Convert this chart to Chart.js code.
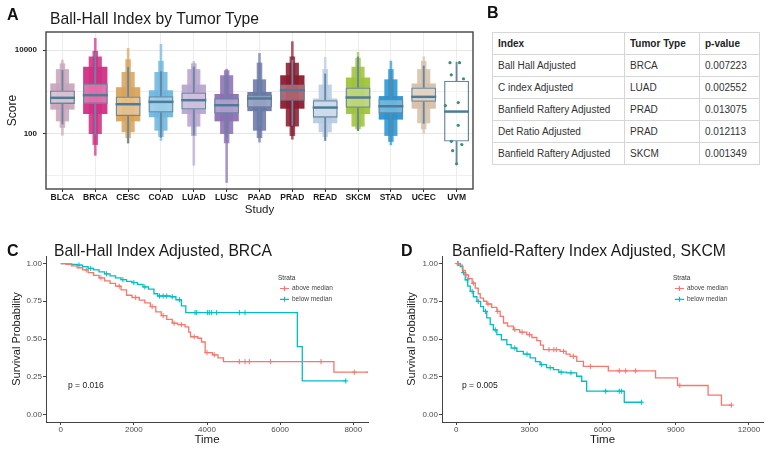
<!DOCTYPE html>
<html>
<head>
<meta charset="utf-8">
<script src="https://cdn.jsdelivr.net/npm/chart.js@4.4.1/dist/chart.umd.min.js"></script>
<style>
  body { margin: 0; background: #fff; }
  #wrap { position: relative; width: 771px; height: 450px; overflow: hidden; font-family: "Liberation Sans", Arial, sans-serif; }
  canvas { position: absolute; }
  .lbl { position: absolute; line-height: 1; white-space: nowrap; color: #111; }
  .panel { font-size: 16px; font-weight: bold; }
  .title { font-size: 15.7px; color: #1a1a1a; }
  .pval { font-size: 8.5px; color: #222; }
  table { position: absolute; left: 492px; top: 32px; border-collapse: collapse; font-size: 10px; color: #333; }
  td { height: 22px; padding: 0 0 0 5px; border: 1px solid #d6d6d6; box-sizing: border-box; }
  td + td { border-left: 1px solid #555; }
  tr:first-child td { font-weight: bold; color: #222; }
</style>
</head>
<body>
<div id="wrap">
  <canvas id="chartA" width="480" height="220" style="left:0;top:0;width:480px;height:220px"></canvas>
  <canvas id="chartC" width="385" height="225" style="left:0;top:225px;width:385px;height:225px"></canvas>
  <canvas id="chartD" width="386" height="225" style="left:385px;top:225px;width:386px;height:225px"></canvas>

  <div class="lbl panel" style="left:7px;top:7px">A</div>
  <div class="lbl title" style="left:50px;top:11px">Ball-Hall Index by Tumor Type</div>
  <div class="lbl panel" style="left:487px;top:5px">B</div>
  <div class="lbl panel" style="left:7px;top:243px">C</div>
  <div class="lbl title" style="left:54px;top:243px">Ball-Hall Index Adjusted, BRCA</div>
  <div class="lbl panel" style="left:401px;top:243px">D</div>
  <div class="lbl title" style="left:452px;top:243px">Banfield-Raftery Index Adjusted, SKCM</div>
  <div class="lbl pval" style="left:68px;top:381px">p = 0.016</div>
  <div class="lbl pval" style="left:462px;top:381px">p = 0.005</div>

  <table id="pTable">
    <colgroup><col style="width:132px"><col style="width:75px"><col style="width:60px"></colgroup>
    <tbody id="pTableBody"></tbody>
  </table>
</div>

<script>
// ---- Panel A data: Ball-Hall score per study (log scale) ----
const studies = ['BLCA', 'BRCA', 'CESC', 'COAD', 'LUAD', 'LUSC', 'PAAD', 'PRAD', 'READ', 'SKCM', 'STAD', 'UCEC', 'UVM'];
const studyColors = ['#c9a6bb', '#d12f84', '#d8a45c', '#6fb7de', '#b8a5cd', '#8d71b4', '#6b77a8', '#8b1c2d', '#b7cce2', '#9fc43b', '#2a95d1', '#d6c1aa', '#3d8f73'];
const q1Vals = [521, 521, 269, 324, 382, 306, 426, 615, 245, 419, 306, 582, 66];
const medianVals = [726, 840, 512, 582, 638, 484, 700, 1106, 426, 739, 458, 766, 342];
const q3Vals = [1086, 1596, 780, 794, 973, 713, 855, 1510, 638, 1281, 687, 1281, 1850];
const whiskerLow = [173, 97, 61, 84, 94, 86, 150, 160, 70, 120, 91, 179, 19.6];
const whiskerHigh = [3270, 8550, 3850, 3050, 3950, 2535, 2430, 5800, 2690, 6840, 2300, 4170, 5160];
// extent of the beeswarm points, from the sparse tails to the dense middle
const swarmMin = [93, 31, 61, 70, 18, 7, 64, 75, 70, 120, 55, 103, null];
const swarmMax = [5770, 19000, 10900, 13700, 5300, 3500, 8300, 15800, 6700, 8800, 5450, 6900, null];
const outerLow = [140, 55, 80, 85, 90, 60, 80, 90, 85, 130, 65, 130, null];
const outerHigh = [4800, 9500, 6000, 5500, 4800, 3300, 5000, 7000, 3500, 6500, 3500, 5500, null];
const midLow = [200, 100, 110, 120, 150, 100, 120, 150, 110, 150, 90, 180, null];
const midHigh = [3500, 7000, 3000, 3000, 3500, 2500, 2000, 5000, 1500, 4000, 2000, 3500, null];
const bodyLow = [380, 300, 200, 250, 300, 200, 350, 400, 180, 300, 220, 400, null];
const bodyHigh = [1600, 4000, 1300, 1100, 1500, 900, 1000, 2500, 700, 2200, 800, 1600, null];
// UVM has few samples, drawn as single points
const uvmScores = [4980, 5000, 2570, 2065, 561, 475, 161, 67, 56, 40, 19.5];
const uvmJitter = [-0.20, 0.09, -0.16, 0.21, 0.05, -0.34, 0.05, -0.16, 0.16, -0.12, 0.0];
const scoreTicks = [10, 100, 1000, 10000];

// ---- Panel B data ----
const tableHeader = ['Index', 'Tumor Type', 'p-value'];
const indexNames = ['Ball Hall Adjusted', 'C index Adjusted', 'Banfield Raftery Adjusted', 'Det Ratio Adjusted', 'Banfield Raftery Adjusted'];
const tumorTypes = ['BRCA', 'LUAD', 'PRAD', 'PRAD', 'SKCM'];
const pValues = ['0.007223', '0.002552', '0.013075', '0.012113', '0.001349'];

// ---- Panels C, D: Kaplan-Meier steps [time, survival] ----
const strataNames = ['above median', 'below median'];
const strataColors = ['#f8766d', '#00bfc4'];
const survTicks = [0, 0.25, 0.5, 0.75, 1];

const brcaAbove = [[0, 1], [150, 0.995], [300, 0.985], [450, 0.972], [600, 0.958], [750, 0.94], [900, 0.922], [1050, 0.905], [1200, 0.885], [1350, 0.868], [1500, 0.85], [1650, 0.825], [1800, 0.79], [1950, 0.775], [2150, 0.758], [2300, 0.74], [2450, 0.715], [2600, 0.68], [2750, 0.655], [2900, 0.63], [3050, 0.605], [3200, 0.595], [3400, 0.58], [3500, 0.545], [3550, 0.515], [3750, 0.505], [3850, 0.48], [3950, 0.41], [4150, 0.395], [4300, 0.375], [4450, 0.35], [7470, 0.28], [8420, 0.28]];
const brcaBelow = [[0, 1], [150, 0.998], [300, 0.994], [450, 0.99], [600, 0.98], [750, 0.968], [900, 0.958], [1050, 0.945], [1200, 0.932], [1350, 0.918], [1500, 0.905], [1650, 0.893], [1800, 0.882], [1950, 0.874], [2100, 0.862], [2250, 0.845], [2400, 0.83], [2550, 0.8], [2650, 0.785], [3000, 0.78], [3150, 0.76], [3300, 0.72], [3420, 0.675], [6470, 0.45], [6605, 0.222], [7795, 0.222]];
const brcaAboveCensor = [[700, 0.958], [1100, 0.905], [1600, 0.85], [2050, 0.775], [2500, 0.715], [2800, 0.655], [3100, 0.605], [3300, 0.595], [3650, 0.515], [4000, 0.41], [4200, 0.395], [4884, 0.35], [5039, 0.35], [5157, 0.35], [5740, 0.35], [7117, 0.35], [8028, 0.28], [8420, 0.28]];
const brcaBelowCensor = [[500, 0.99], [820, 0.968], [1250, 0.932], [1700, 0.893], [2000, 0.874], [2300, 0.845], [2700, 0.785], [2800, 0.785], [2900, 0.785], [3050, 0.78], [3250, 0.76], [3672, 0.675], [3718, 0.675], [4018, 0.675], [4064, 0.675], [4128, 0.675], [4264, 0.675], [4884, 0.675], [5039, 0.675], [7795, 0.222]];

const skcmAbove = [[0, 1], [100, 0.99], [250, 0.955], [368, 0.925], [500, 0.9], [650, 0.87], [777, 0.837], [900, 0.8], [982, 0.771], [1120, 0.75], [1255, 0.732], [1450, 0.71], [1664, 0.683], [1800, 0.65], [1937, 0.606], [2100, 0.585], [2346, 0.562], [2600, 0.545], [2892, 0.529], [3100, 0.51], [3302, 0.489], [3450, 0.46], [3574, 0.43], [4256, 0.418], [4500, 0.4], [4665, 0.385], [4939, 0.352], [5212, 0.319], [6232, 0.289], [8170, 0.243], [9070, 0.192], [10323, 0.128], [10870, 0.062], [11280, 0.062]];
const skcmBelow = [[0, 1], [164, 0.98], [270, 0.94], [368, 0.892], [470, 0.85], [573, 0.815], [700, 0.78], [845, 0.749], [1000, 0.715], [1118, 0.683], [1250, 0.64], [1391, 0.595], [1520, 0.56], [1664, 0.529], [1850, 0.495], [2073, 0.463], [2250, 0.44], [2483, 0.418], [2750, 0.4], [3028, 0.375], [3250, 0.35], [3437, 0.33], [3700, 0.31], [3983, 0.297], [4200, 0.28], [4529, 0.276], [4936, 0.253], [5141, 0.22], [5345, 0.154], [6887, 0.081], [7598, 0.081]];
const skcmAboveCensor = [[50, 1], [400, 0.925], [700, 0.87], [1300, 0.732], [1700, 0.683], [2400, 0.562], [2700, 0.545], [3000, 0.529], [3800, 0.43], [4000, 0.43], [4100, 0.43], [4400, 0.418], [4800, 0.385], [5500, 0.319], [6682, 0.289], [6944, 0.289], [7353, 0.289], [9165, 0.192], [11280, 0.062]];
const skcmBelowCensor = [[80, 1], [300, 0.94], [450, 0.892], [650, 0.815], [900, 0.749], [1200, 0.683], [1600, 0.56], [2400, 0.44], [2900, 0.4], [3500, 0.33], [3850, 0.31], [4300, 0.28], [4700, 0.276], [6125, 0.154], [6682, 0.154], [6780, 0.154], [7598, 0.081]];

const FONT = '"Liberation Sans", Arial, sans-serif';

function withAlpha(hex, a) {
    const n = parseInt(hex.slice(1), 16);
    return `rgba(${(n >> 16) & 255}, ${(n >> 8) & 255}, ${n & 255}, ${a})`;
}

function ranges(lows, highs) {
    return lows.map((lo, i) => (lo === null ? null : [lo, highs[i]]));
}

// Fill the p-value table
const tbody = document.getElementById('pTableBody');
[tableHeader, ...indexNames.map((name, i) => [name, tumorTypes[i], pValues[i]])].forEach(cells => {
    const row = document.createElement('tr');
    row.innerHTML = cells.map(c => `<td>${c}</td>`).join('');
    tbody.appendChild(row);
});

// Dark frame around the panel A plotting area
const panelBorder = {
    id: 'panelBorder',
    afterDraw(chart) {
        const { ctx, chartArea: a } = chart;
        ctx.save();
        ctx.strokeStyle = '#444';
        ctx.lineWidth = 1.4;
        ctx.strokeRect(a.left, a.top, a.right - a.left, a.bottom - a.top);
        ctx.restore();
    }
};

// ggplot-style "Strata" legend drawn inside the KM plot
const strataLegend = {
    id: 'strataLegend',
    afterDraw(chart, args, opts) {
        const ctx = chart.ctx;
        ctx.save();
        ctx.font = `6.5px ${FONT}`;
        ctx.textBaseline = 'middle';
        ctx.fillStyle = '#333';
        ctx.fillText('Strata', opts.x, opts.y);
        strataNames.forEach((name, i) => {
            const y = opts.y + 10.5 + i * 10.8;
            ctx.strokeStyle = strataColors[i];
            ctx.lineWidth = 1.2;
            ctx.beginPath();
            ctx.moveTo(opts.x + 2, y);
            ctx.lineTo(opts.x + 11, y);
            ctx.moveTo(opts.x + 6.5, y - 2.5);
            ctx.lineTo(opts.x + 6.5, y + 2.5);
            ctx.stroke();
            ctx.fillStyle = '#444';
            ctx.fillText(name, opts.x + 14, y);
        });
        ctx.restore();
    }
};

// ---- Panel A ----
const boxLine = '#6786a2';

function swarmLayer(label, lows, highs, alpha, width, order) {
    return {
        label,
        data: ranges(lows, highs),
        backgroundColor: studyColors.map(c => withAlpha(c, alpha)),
        barPercentage: width,
        categoryPercentage: 1,
        grouped: false,
        order
    };
}

new Chart(document.getElementById('chartA'), {
    type: 'bar',
    data: {
        labels: studies,
        datasets: [
            {
                label: 'swarm range',
                data: ranges(swarmMin, swarmMax),
                backgroundColor: studyColors.map(c => withAlpha(c, 0.7)),
                barThickness: 2,
                grouped: false,
                order: 9
            },
            swarmLayer('swarm outer', outerLow, outerHigh, 0.8, 0.17, 8),
            swarmLayer('swarm mid', midLow, midHigh, 0.88, 0.4, 7),
            swarmLayer('swarm body', bodyLow, bodyHigh, 0.95, 0.74, 6),
            {
                label: 'box',
                data: ranges(q1Vals, q3Vals),
                backgroundColor: 'rgba(255,255,255,0.3)',
                borderColor: boxLine,
                borderWidth: 1.3,
                borderSkipped: false,
                barPercentage: 0.76,
                categoryPercentage: 1,
                grouped: false,
                order: 4
            },
            {
                label: 'lower whisker',
                data: ranges(whiskerLow, q1Vals),
                backgroundColor: boxLine,
                barThickness: 1.2,
                grouped: false,
                order: 3
            },
            {
                label: 'upper whisker',
                data: ranges(q3Vals, whiskerHigh),
                backgroundColor: boxLine,
                barThickness: 1.2,
                grouped: false,
                order: 3
            },
            {
                type: 'scatter',
                label: 'median',
                xAxisID: 'x2',
                data: medianVals.map((m, i) => ({ x: i, y: m })),
                pointStyle: 'line',
                pointRadius: 12.5,
                borderColor: '#4f7b99',
                borderWidth: 2.5,
                order: 2
            },
            {
                type: 'scatter',
                label: 'UVM',
                xAxisID: 'x2',
                data: uvmScores.map((v, i) => ({ x: studies.length - 1 + uvmJitter[i], y: v })),
                pointRadius: 1.6,
                backgroundColor: studyColors[studies.length - 1],
                borderWidth: 0,
                order: 1
            }
        ]
    },
    options: {
        responsive: false,
        animation: false,
        layout: { autoPadding: false, padding: { left: 0, right: 7, top: 32, bottom: 0 } },
        plugins: { legend: { display: false }, tooltip: { enabled: false } },
        scales: {
            x: {
                grid: { offset: false, color: '#ececec', tickLength: 3, tickColor: '#333' },
                border: { display: false },
                ticks: { color: '#1a1a1a', font: { family: FONT, size: 8.5, weight: 'bold' }, padding: 1, maxRotation: 0 },
                title: { display: true, text: 'Study', color: '#1a1a1a', font: { family: FONT, size: 11.5 }, padding: { top: 0, bottom: 3 } },
                afterFit: (axis) => { axis.height = 31; axis.paddingLeft = 0; axis.paddingRight = 0; }
            },
            // hidden linear twin of the category axis, used for medians and jittered points
            x2: {
                type: 'linear',
                display: false,
                offset: false,
                min: -0.5,
                max: studies.length - 0.5,
                ticks: { display: false },
                afterFit: (axis) => { axis.paddingLeft = 0; axis.paddingRight = 0; }
            },
            y: {
                type: 'logarithmic',
                min: 4.9,
                max: 26830,
                afterBuildTicks: (axis) => { axis.ticks = scoreTicks.map(v => ({ value: v })); },
                grid: {
                    color: (ctx) => (ctx.tick && (ctx.tick.value === 100 || ctx.tick.value === 10000) ? '#e6e6e6' : '#f0f0f0'),
                    tickLength: 3,
                    tickColor: (ctx) => (ctx.tick && (ctx.tick.value === 100 || ctx.tick.value === 10000) ? '#333' : 'rgba(0,0,0,0)')
                },
                border: { display: false },
                ticks: {
                    color: '#1a1a1a',
                    font: { family: FONT, size: 8, weight: 'bold' },
                    padding: 6,
                    callback: (v) => (v === 100 || v === 10000 ? String(v) : '')
                },
                title: { display: true, text: 'Score', color: '#1a1a1a', font: { family: FONT, size: 12 }, padding: { top: 5, bottom: 0 } },
                afterFit: (axis) => { axis.width = 46; }
            }
        }
    },
    plugins: [panelBorder]
});

// ---- Panels C and D ----
function toPoints(pairs) {
    return pairs.map(([t, s]) => ({ x: t, y: s }));
}

function makeKmChart(canvasId, curves, censors, xRange, xTicks, legendPos, yAxisWidth, yTitlePad, rightPad) {
    const datasets = [];
    curves.forEach((curve, i) => {
        datasets.push({
            label: strataNames[i],
            data: toPoints(curve),
            stepped: 'before',
            borderColor: strataColors[i],
            borderWidth: 1.3,
            pointRadius: 0,
            fill: false
        });
        datasets.push({
            type: 'scatter',
            label: strataNames[i] + ' censored',
            data: toPoints(censors[i]),
            pointStyle: 'cross',
            pointRadius: 2.6,
            borderColor: strataColors[i],
            borderWidth: 1
        });
    });

    new Chart(document.getElementById(canvasId), {
        type: 'line',
        data: { datasets },
        options: {
            responsive: false,
            animation: false,
            layout: { autoPadding: false, padding: { left: 0, right: rightPad, top: 31, bottom: 0 } },
            plugins: { legend: { display: false }, tooltip: { enabled: false }, strataLegend: legendPos },
            scales: {
                x: {
                    type: 'linear',
                    min: xRange[0],
                    max: xRange[1],
                    afterBuildTicks: (axis) => { axis.ticks = xTicks.map(v => ({ value: v })); },
                    grid: { drawOnChartArea: false, tickLength: 3, tickColor: '#444' },
                    border: { display: true, color: '#444', width: 1 },
                    ticks: { color: '#4d4d4d', font: { family: FONT, size: 8 }, padding: 0, maxRotation: 0, callback: (v) => String(v) },
                    title: { display: true, text: 'Time', color: '#1a1a1a', font: { family: FONT, size: 11.5 }, padding: { top: 0, bottom: 3 } },
                    afterFit: (axis) => { axis.height = 28; axis.paddingLeft = 0; axis.paddingRight = 0; }
                },
                y: {
                    min: -0.05,
                    max: 1.05,
                    afterBuildTicks: (axis) => { axis.ticks = survTicks.map(v => ({ value: v })); },
                    grid: { drawOnChartArea: false, tickLength: 3, tickColor: '#444' },
                    border: { display: true, color: '#444', width: 1 },
                    ticks: { color: '#4d4d4d', font: { family: FONT, size: 8 }, padding: 1, callback: (v) => v.toFixed(2) },
                    title: { display: true, text: 'Survival Probability', color: '#1a1a1a', font: { family: FONT, size: 11 }, padding: { top: yTitlePad, bottom: 0 } },
                    afterFit: (axis) => { axis.width = yAxisWidth; }
                }
            }
        },
        plugins: [strataLegend]
    });
}

makeKmChart('chartC', [brcaAbove, brcaBelow], [brcaAboveCensor, brcaBelowCensor],
    [-402, 8402], [0, 2000, 4000, 6000, 8000], { x: 278, y: 53 }, 46, 10, 17);
makeKmChart('chartD', [skcmAbove, skcmBelow], [skcmAboveCensor, skcmBelowCensor],
    [-585, 12574], [0, 3000, 6000, 9000, 12000], { x: 288, y: 53 }, 57, 20, 8);
</script>
</body>
</html>
